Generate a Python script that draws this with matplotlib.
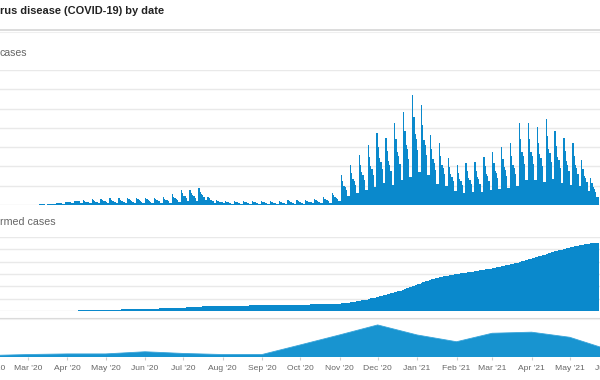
import matplotlib
matplotlib.use('Agg')
import matplotlib.pyplot as plt
import matplotlib.dates as mdates
from matplotlib.lines import Line2D
import numpy as np

plt.rcParams['font.family'] = ['Liberation Sans', 'DejaVu Sans']

# ---------------- data ----------------
title_text = "rus disease (COVID-19) by date"
top_label = "cases"
mid_label = "rmed cases"

start_date = np.datetime64('2020-02-24')
# daily new cases (thousands), one row per week Mon..Sun
weekly_new_k = [
    [0, 0, 0.06, 0, 0, 0, 0],
    [0.01, 0.01, 0.03, 0.03, 0.04, 0.03, 0.03],
    [0.06, 0.08, 0.09, 0.1, 0.1, 0.06, 0.06],
    [0.15, 0.15, 0.16, 0.18, 0.16, 0.1, 0.1],
    [0.25, 0.28, 0.31, 0.31, 0.3, 0.19, 0.19],
    [0.38, 0.4, 0.41, 0.44, 0.38, 0.25, 0.25],
    [0.5, 0.56, 0.56, 0.53, 0.48, 0.31, 0.31],
    [0.69, 0.55, 0.45, 0.41, 0.35, 0.21, 0.21],
    [0.75, 0.6, 0.49, 0.45, 0.38, 0.23, 0.23],
    [0.81, 0.65, 0.53, 0.49, 0.41, 0.24, 0.24],
    [0.88, 0.7, 0.57, 0.53, 0.44, 0.26, 0.26],
    [0.88, 0.7, 0.57, 0.53, 0.44, 0.26, 0.26],
    [0.9, 0.72, 0.59, 0.54, 0.45, 0.27, 0.27],
    [0.9, 0.72, 0.59, 0.54, 0.45, 0.27, 0.27],
    [0.9, 0.72, 0.59, 0.54, 0.45, 0.27, 0.27],
    [0.94, 0.75, 0.61, 0.56, 0.47, 0.28, 0.28],
    [1.0, 0.8, 0.65, 0.6, 0.5, 0.3, 0.3],
    [1.38, 1.1, 0.9, 0.83, 0.69, 0.41, 0.41],
    [1.88, 1.5, 1.22, 1.13, 0.94, 0.56, 0.56],
    [1.94, 1.55, 1.26, 1.16, 0.97, 0.58, 0.58],
    [2.19, 1.75, 1.42, 1.31, 1.1, 0.66, 0.66],
    [1.06, 0.85, 0.69, 0.64, 0.53, 0.32, 0.32],
    [0.69, 0.55, 0.45, 0.41, 0.35, 0.21, 0.21],
    [0.5, 0.4, 0.33, 0.3, 0.25, 0.15, 0.15],
    [0.5, 0.4, 0.33, 0.3, 0.25, 0.15, 0.15],
    [0.5, 0.4, 0.33, 0.3, 0.25, 0.15, 0.15],
    [0.5, 0.4, 0.33, 0.3, 0.25, 0.15, 0.15],
    [0.5, 0.4, 0.33, 0.3, 0.25, 0.15, 0.15],
    [0.5, 0.4, 0.33, 0.3, 0.25, 0.15, 0.15],
    [0.5, 0.4, 0.33, 0.3, 0.25, 0.15, 0.15],
    [0.63, 0.5, 0.41, 0.38, 0.32, 0.19, 0.19],
    [0.63, 0.5, 0.41, 0.38, 0.32, 0.19, 0.19],
    [0.69, 0.55, 0.45, 0.41, 0.35, 0.21, 0.21],
    [0.75, 0.6, 0.49, 0.45, 0.38, 0.23, 0.23],
    [1.0, 0.8, 0.65, 0.6, 0.5, 0.3, 0.3],
    [1.56, 1.25, 1.01, 0.94, 0.78, 0.47, 0.47],
    [3.88, 3.1, 2.52, 2.33, 1.94, 1.16, 1.16],
    [5.13, 4.1, 3.33, 3.08, 2.57, 1.54, 1.54],
    [6.5, 5.2, 4.23, 3.9, 3.25, 1.95, 1.95],
    [7.75, 6.2, 5.04, 4.65, 3.88, 2.33, 2.33],
    [9.38, 7.5, 6.1, 5.63, 4.69, 2.81, 2.81],
    [8.75, 7.0, 5.69, 5.25, 4.38, 2.63, 2.63],
    [10.63, 8.5, 6.91, 6.38, 5.32, 3.19, 3.19],
    [12.0, 9.6, 7.8, 7.2, 6.0, 3.6, 3.6],
    [14.25, 11.4, 9.26, 8.55, 7.13, 4.28, 4.28],
    [13.0, 10.4, 8.45, 7.8, 6.5, 3.9, 3.9],
    [9.13, 7.3, 5.93, 5.48, 4.57, 2.74, 2.74],
    [8.0, 6.4, 5.2, 4.8, 4.0, 2.4, 2.4],
    [6.13, 4.9, 3.98, 3.68, 3.07, 1.84, 1.84],
    [5.13, 4.1, 3.33, 3.08, 2.57, 1.54, 1.54],
    [5.44, 4.35, 3.54, 3.26, 2.72, 1.63, 1.63],
    [5.56, 4.45, 3.61, 3.34, 2.78, 1.67, 1.67],
    [6.25, 5.0, 4.06, 3.75, 3.13, 1.88, 1.88],
    [6.88, 5.5, 4.47, 4.13, 3.44, 2.06, 2.06],
    [7.5, 6.0, 4.88, 4.5, 3.75, 2.25, 2.25],
    [8.0, 6.4, 5.2, 4.8, 4.0, 2.4, 2.4],
    [10.63, 8.5, 6.91, 6.38, 5.32, 3.19, 3.19],
    [10.63, 8.5, 6.91, 6.38, 5.32, 3.19, 3.19],
    [10.13, 8.1, 6.58, 6.08, 5.07, 3.04, 3.04],
    [11.13, 8.9, 7.23, 6.68, 5.57, 3.34, 3.34],
    [9.63, 7.7, 6.26, 5.78, 4.82, 2.89, 2.89],
    [8.75, 7.0, 5.69, 5.25, 4.38, 2.63, 2.63],
    [8.0, 6.4, 5.2, 4.8, 4.0, 2.4, 2.4],
    [5.88, 4.7, 3.82, 3.53, 2.94, 1.76, 1.76],
    [3.5, 2.8, 2.28, 2.1, 1.75, 1.05, 1.05],
]

# overview (navigator) series: monthly values (thousands)
nav_months = ['2020-02', '2020-03', '2020-04', '2020-05', '2020-06', '2020-07',
              '2020-08', '2020-09', '2020-10', '2020-11', '2020-12', '2021-01',
              '2021-02', '2021-03', '2021-04', '2021-05', '2021-06']
nav_values_k = [10, 16, 20, 20, 34, 23, 16, 16, 78, 143, 208, 143,
                99, 154, 161, 128, 46]

# ---------------- derived ----------------
new_k = np.array(weekly_new_k, dtype=float).ravel()
days = start_date + np.arange(len(new_k))
cum_m = np.cumsum(new_k) / 1000.0
nav_dates = np.array(nav_months, dtype='datetime64[M]').astype('datetime64[D]')

# ---------------- style ----------------
BAR = '#0a89cc'
NAV = '#1894d0'
GRID = '#e9e9e9'
W, H = 600, 380

fig = plt.figure(figsize=(6, 3.8), dpi=100)

def fy(y):
    return 1 - y / H

# horizontal extent in pixels of the chart area (partially outside the crop)
left_px, right_px = -40, 640
px_per_day = 1.2716
anchor = mdates.date2num(np.datetime64('2020-03-01'))
xlim = (anchor + (left_px - 28) / px_per_day, anchor + (right_px - 28) / px_per_day)

def make_ax(top_px, bottom_px):
    ax = fig.add_axes([left_px / W, fy(bottom_px), (right_px - left_px) / W,
                       (bottom_px - top_px) / H])
    for s in ax.spines.values():
        s.set_visible(False)
    ax.set_xlim(xlim)
    return ax

# top: daily new cases
ax1 = make_ax(70, 205)
ax1.bar(days, new_k, width=1.0, color=BAR, linewidth=0, align='edge')
ax1.set_ylim(0, 17.5)
ax1.set_yticks(np.arange(0, 17.6, 2.5))
ax1.grid(axis='y', color=GRID, lw=1)
ax1.set_axisbelow(True)
ax1.tick_params(left=False, bottom=False, labelleft=False, labelbottom=False)

# middle: cumulative cases
ax2 = make_ax(237, 311)
ax2.bar(days, cum_m, width=1.0, color=BAR, linewidth=0, align='edge')
ax2.set_ylim(0, 1.2)
ax2.set_yticks(np.arange(0, 1.21, 0.2))
ax2.grid(axis='y', color=GRID, lw=1)
ax2.set_axisbelow(True)
ax2.tick_params(left=False, bottom=False, labelleft=False, labelbottom=False)

# bottom: overview navigator
ax3 = make_ax(320, 357)
ax3.fill_between(nav_dates, nav_values_k, 0, color=NAV, linewidth=0)
ax3.plot(nav_dates, nav_values_k, color='#3aa5da', lw=0.6)
ax3.set_ylim(0, 240)
ax3.set_yticks([])
ax3.xaxis.set_major_locator(mdates.MonthLocator())
ax3.xaxis.set_major_formatter(mdates.DateFormatter("%b '%y"))
ax3.tick_params(axis='x', length=2.5, color='#cccccc', labelsize=6.1,
                labelcolor='#666666', pad=3.5)

# texts
fig.text(0, fy(11), title_text, fontsize=7.9, fontweight='bold', color='#222222',
         ha='left', va='center')
fig.text(0, fy(53), top_label, fontsize=7.6, color='#666666', ha='left', va='center')
fig.text(0, fy(222), mid_label, fontsize=7.7, color='#666666', ha='left', va='center')

# separators
fig.add_artist(Line2D([0, 1], [fy(30), fy(30)], transform=fig.transFigure,
                      color='#d2d2d2', lw=1.1))
fig.add_artist(Line2D([0, 1], [fy(31.5), fy(31.5)], transform=fig.transFigure,
                      color='#efefef', lw=0.8))
fig.add_artist(Line2D([0, 1], [fy(317.5), fy(317.5)], transform=fig.transFigure,
                      color='#dadada', lw=0.8))
fig.add_artist(Line2D([0, 1], [fy(319), fy(319)], transform=fig.transFigure,
                      color='#f0f0f0', lw=0.8))

fig.savefig('out.png', dpi=100)
